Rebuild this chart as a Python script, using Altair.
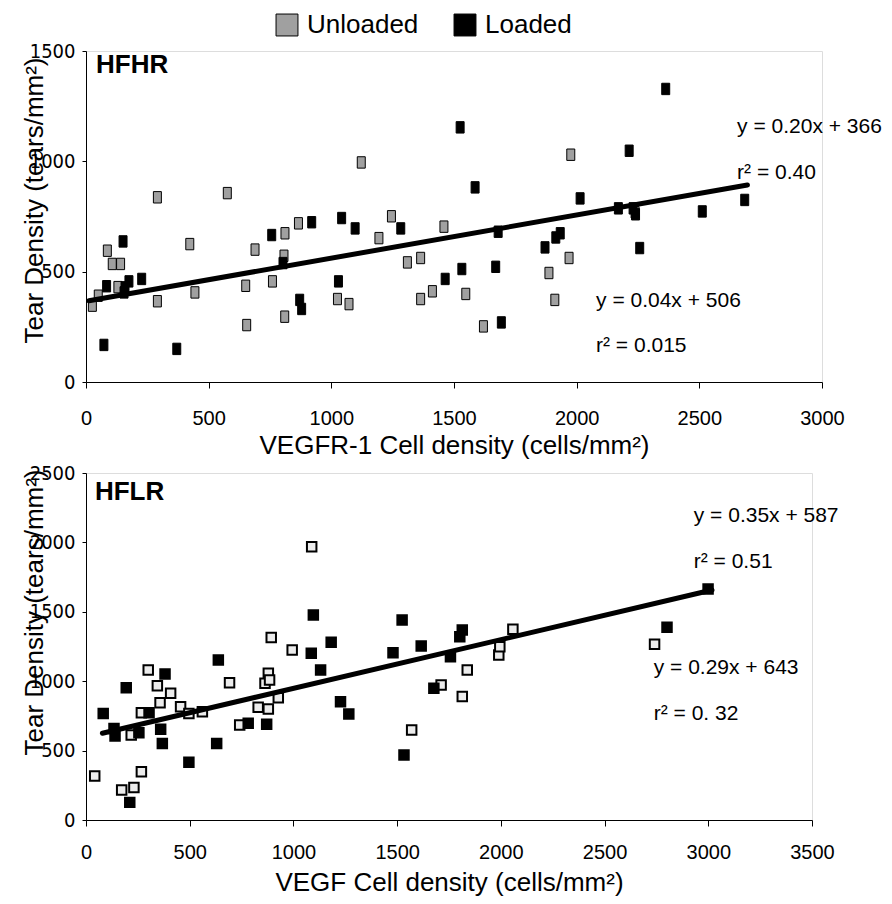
import altair as alt
import pandas as pd

FONT = "Liberation Sans"
NARROW = "Liberation Sans Narrow, DejaVu Sans Condensed, Liberation Sans"

# ---------- HFHR (top panel, VEGFR-1) ----------
hfhr_unl_x = [26, 50, 87, 107, 141, 130, 291, 291, 423, 444, 576, 651, 655, 689, 760, 811, 807, 810,
              866, 1025, 1072, 1122, 1194, 1245, 1310, 1364, 1364, 1412, 1459, 1548, 1620, 1976, 1969,
              1887, 1911, 2238]
hfhr_unl_y = [346, 391, 595, 535, 535, 430, 837, 366, 625, 406, 856, 436, 258, 600, 456, 674, 572, 296,
              719, 376, 353, 995, 652, 751, 542, 562, 376, 411, 704, 399, 252, 1030, 562,
              494, 372, 769]
hfhr_load_x = [73, 84, 151, 155, 159, 175, 227, 370, 757, 803, 871, 879, 920, 1029, 1042, 1097, 1283,
               1464, 1525, 1586, 1532, 1670, 1680, 1693, 1871, 1915, 1933, 2014, 2170, 2214, 2230, 2240,
               2257, 2363, 2512, 2685]
hfhr_load_y = [168, 434, 637, 406, 429, 456, 467, 150, 666, 539, 372, 331, 724, 456, 743, 696, 696,
               467, 1154, 882, 512, 522, 681, 270, 610, 655, 674, 832, 787, 1048, 787, 760,
               607, 1328, 773, 825]
hfhr_trend_x = [12, 2696]
hfhr_trend_y = [368, 893]
hfhr_ann_text = ["y = 0.20x + 366", "r² = 0.40", "y = 0.04x + 506", "r² = 0.015"]
hfhr_ann_x = [2654, 2654, 2079, 2079]
hfhr_ann_y = [1155, 947, 367, 163]
hfhr_label = "HFHR"
hfhr_label_x = [41]
hfhr_label_y = [1436]
hfhr_xticks = [0, 500, 1000, 1500, 2000, 2500, 3000]
hfhr_yticks = [0, 500, 1000, 1500]

# ---------- HFLR (bottom panel, VEGF) ----------
hflr_unl_x = [42, 172, 231, 267, 218, 267, 300, 344, 357, 408, 456, 496, 561, 692, 741, 830, 863, 879,
              885, 879, 893, 927, 994, 1088, 1570, 1712, 1838, 1814, 1990, 1995, 2058, 2741]
hflr_unl_y = [317, 216, 235, 348, 612, 773, 1081, 968, 845, 913, 816, 768, 780, 989, 684, 812, 985, 1057,
              1009, 800, 1314, 881, 1225, 1969, 648, 973, 1081, 889, 1189, 1249, 1374, 1266]
hflr_load_x = [83, 135, 140, 194, 211, 255, 304, 360, 368, 381, 496, 630, 638, 782, 871, 1086, 1096,
               1131, 1182, 1227, 1267, 1480, 1524, 1533, 1616, 1677, 1757, 1802, 1814, 2801, 2999]
hflr_load_y = [768, 660, 605, 953, 127, 629, 773, 653, 552, 1052, 416, 552, 1153, 697, 689, 1201, 1477,
               1081, 1280, 852, 764, 1205, 1441, 468, 1254, 949, 1177, 1321, 1369, 1388, 1664]
hflr_trend_x = [79, 3018]
hflr_trend_y = [625, 1657]
hflr_ann_text = ["y = 0.35x + 587", "r² = 0.51", "y = 0.29x + 643", "r² = 0. 32"]
hflr_ann_x = [2930, 2930, 2737, 2737]
hflr_ann_y = [2190, 1859, 1095, 764]
hflr_label = "HFLR"
hflr_label_x = [43]
hflr_label_y = [2363]
hflr_xticks = [0, 500, 1000, 1500, 2000, 2500, 3000, 3500]
hflr_yticks = [0, 500, 1000, 1500, 2000, 2500]

groups = ["Unloaded", "Loaded"]


def panel(unl_x, unl_y, load_x, load_y, tx, ty, ann_t, ann_x, ann_y, lab, lab_x, lab_y,
          xticks, yticks, w, h, xtitle, shape, size, unl_fill, stroke_w, legend, x_lpad, x_tpad,
          ytitle_y):
    pts = pd.DataFrame({
        "x": unl_x + load_x,
        "y": unl_y + load_y,
        "g": ["Unloaded"] * len(unl_x) + ["Loaded"] * len(load_x),
    })
    xs = alt.Scale(domain=[xticks[0], xticks[-1]], nice=False, zero=False)
    ys = alt.Scale(domain=[yticks[0], yticks[-1]], nice=False, zero=False)
    xax = alt.Axis(values=xticks, format="d", title=xtitle, grid=False, tickSize=6,
                   labelPadding=x_lpad, labelFontSize=20, titleFontSize=26,
                   titleFontWeight="normal", titlePadding=x_tpad,
                   domainColor="black", tickColor="black", labelColor="black", titleColor="black",
                   labelFont=FONT, titleFont=FONT, labelFlush=False)
    yax = alt.Axis(values=yticks, format="d", title="Tear Density (tears/mm²)", grid=False,
                   tickSize=4, labelPadding=7, labelFontSize=20, labelFont=NARROW,
                   titleFontSize=26, titleFontWeight="normal", titleFont=FONT,
                   titleX=-44, titleY=ytitle_y, titleAlign="center", titleBaseline="alphabetic",
                   titleAngle=270,
                   domainColor="black", tickColor="black", labelColor="black", titleColor="black",
                   labelFlush=False)

    base_pts = alt.Chart(pts).mark_point(filled=True, shape=shape, size=size, stroke="black",
                                         strokeWidth=stroke_w, opacity=1, strokeOpacity=1,
                                         fillOpacity=1)
    points = base_pts.encode(
        x=alt.X("x:Q", scale=xs, axis=xax),
        y=alt.Y("y:Q", scale=ys, axis=yax),
        fill=alt.Fill("g:N", scale=alt.Scale(domain=groups, range=[unl_fill, "#000000"]),
                      legend=legend),
        order=alt.Order("g:N", sort="descending"),
    )
    trend = alt.Chart(pd.DataFrame({"x": tx, "y": ty})).mark_line(
        color="black", strokeWidth=5, strokeCap="round").encode(
        x=alt.X("x:Q", scale=xs), y=alt.Y("y:Q", scale=ys))
    ann = alt.Chart(pd.DataFrame({"t": ann_t, "x": ann_x, "y": ann_y})).mark_text(
        align="left", baseline="middle", fontSize=21, font=FONT, color="black").encode(
        x=alt.X("x:Q", scale=xs), y=alt.Y("y:Q", scale=ys), text="t:N")
    lbl = alt.Chart(pd.DataFrame({"t": [lab], "x": lab_x, "y": lab_y})).mark_text(
        align="left", baseline="middle", fontSize=26, font=FONT, fontWeight="bold",
        color="black").encode(
        x=alt.X("x:Q", scale=xs), y=alt.Y("y:Q", scale=ys), text="t:N")
    return alt.layer(points, trend, ann, lbl).properties(width=w, height=h)


top_legend = alt.Legend(orient="none", legendX=188, legendY=-39, direction="horizontal", title=None,
                        symbolType="square", symbolSize=480, symbolStrokeColor="black",
                        symbolStrokeWidth=1, labelFontSize=26, labelFont=FONT, labelColor="black",
                        labelOffset=7, columnPadding=33, padding=0, symbolOpacity=1)

top = panel(hfhr_unl_x, hfhr_unl_y, hfhr_load_x, hfhr_load_y, hfhr_trend_x, hfhr_trend_y,
            hfhr_ann_text, hfhr_ann_x, hfhr_ann_y, hfhr_label, hfhr_label_x, hfhr_label_y,
            hfhr_xticks, hfhr_yticks, 736, 331, "VEGFR-1 Cell density (cells/mm²)",
            "M-0.7,-1L0.7,-1L0.7,1L-0.7,1Z", 130, "#a0a0a0", 1, top_legend, 20, 4, 149)

bottom = panel(hflr_unl_x, hflr_unl_y, hflr_load_x, hflr_load_y, hflr_trend_x, hflr_trend_y,
               hflr_ann_text, hflr_ann_x, hflr_ann_y, hflr_label, hflr_label_x, hflr_label_y,
               hflr_xticks, hflr_yticks, 726, 347, "VEGF Cell density (cells/mm²)",
               "square", 90, "#ececec", 2, None, 16, 7, 139)

chart = alt.vconcat(top, bottom, spacing=3).resolve_scale(fill="independent").properties(
    padding={"left": 20, "top": 11, "right": 5, "bottom": 5}
).configure_view(stroke=None).configure(font=FONT)

chart.save("out.html", embed_options={"renderer": "svg", "actions": False})
